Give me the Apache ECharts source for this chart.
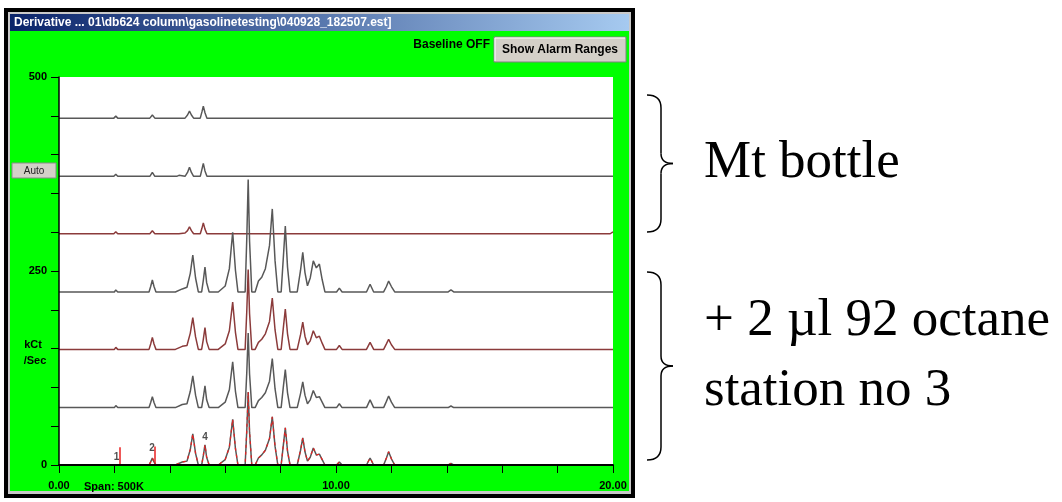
<!DOCTYPE html>
<html><head><meta charset="utf-8">
<script src="https://cdn.jsdelivr.net/npm/echarts@6/dist/echarts.min.js"></script>
<style>html,body{margin:0;padding:0;background:#fff;}#c{width:1062px;height:502px;}</style>
</head><body><div id="c"></div>
<script>
// ---- data ----
const xLabelTicks = [0, 10, 20];          // labelled x ticks (minutes)
const yLabelTicks = [0, 250, 500];        // labelled y ticks (kCt/Sec)

// empty bottle runs (top three traces)
const mtTimes = [0,1.98,2.05,2.12,3.28,3.37,3.46,4.25,4.33,4.4,4.55,4.64,4.71,4.78,4.86,5.1,5.16,5.21,5.27,5.34,14.6,14.66,14.72,19.38,19.45,19.52,19.9,20];
const mtRun1 = [0,0,2.6,0,0,3.9,0,0,0,0,0,4,9,4,0,0,8,15.4,7,0,0,1.3,0,0,0,0,0,0];
const mtRun2 = [0,0,2.6,0,0,5,0,0,1.3,0,0,5,11.6,5,0,0,9,16.7,7,0,0,0,0,0,1.3,0,0,0];
const mtRun3 = [0,0,2.6,0,0,3.9,0,0,0,0,1,4,9,4,0,0,7,14,6,0,0,0,0,0,0,0,0,2.5];

// + 2 µl 92 octane runs (bottom four traces)
const gasTimes = [0,2.0,2.05,2.12,2.65,2.7,2.75,3.25,3.31,3.37,3.43,3.5,4.2,4.45,4.62,4.74,4.83,4.93,5.03,5.15,5.21,5.27,5.33,5.42,5.75,6.0,6.15,6.27,6.37,6.46,6.72,6.78,6.83,6.88,6.96,7.08,7.2,7.32,7.45,7.6,7.7,7.8,7.9,8.02,8.1,8.17,8.25,8.34,8.6,8.72,8.8,8.88,8.97,9.07,9.18,9.29,9.4,9.5,9.6,10.02,10.12,10.22,11.1,11.23,11.36,11.72,11.82,11.9,12.0,12.12,14.05,14.15,14.25,20];
const gasRun1 = [0,0,2.6,0,0,1.3,0,0,7,15.4,7,0, 0,3.9,6,24,47.6,18,0,0,15,32,12,0, 0,7.7,30,77,28,0,0,70,145,65,0,0, 14,19,30,60,107,40,0,0,45,85,32,0, 0,28,51,25,8,18,40,31,36,16,0,0, 5,0,0,10,0,0,7,14,7,0,0,2.6, 0,0];
const gasRun2 = [0,0,2.6,0,0,0,0,0,7,15.4,7,0, 0,3.9,5,21,41,16,0,0,13,28,10,0, 0,7,24,61,22,0,0,50,103,46,0,0, 9,13,20,36,66,25,0,0,28,52,20,0, 0,19,35,17,6,11,24,15,17,8,0,0, 5,0,0,9,0,0,7,13,6,0,0,0, 0,0];
const gasRun3 = [0,0,2.6,0,0,1.3,0,0,6.5,14,6.5,0, 0,3.9,5,21,41,16,0,0,13,28,10,0, 0,7,23,59,21,0,0,46,96,43,0,0, 9,13,19,34,63,24,0,0,27,49,19,0, 0,18,33,16,5,10,22,13,14,7,0,0, 5,0,0,10,0,0,8,15,7,0,0,2, 0,0];
const gasRun4 = [0,0,1,0,0,1.3,0,0,4,9,4,0, 0,3.9,5,20,40,15,0,0,12,26,10,0, 0,7,23,59,21,0,0,45,94,42,0,0, 9,13,19,34,62,24,0,0,26,48,18,0, 0,19,35,17,5,10,22,13,14,7,0,0, 4,0,0,9,0,0,9,17,8,0,0,2, 0,0];

// baseline offset of each stacked trace (kCt/Sec)
const traceOffsets = [447, 372, 298, 223, 149, 74, 0];

// peak markers on the bottom trace
const markerTimes = [2.18, 3.47];
const markerHeights = [23, 24];
const peakLabelNames = ['1', '2', '4'];
const peakLabelTimes = [2.08, 3.36, 5.27];
const peakLabelHeights = [10, 22, 36];

// ---- build chart ----
const GREY = '#585858', BROWN = '#8b3b3b', RED = '#e82020';
const traces = [
  {t: mtTimes, v: mtRun1, c: GREY},
  {t: mtTimes, v: mtRun2, c: GREY},
  {t: mtTimes, v: mtRun3, c: BROWN},
  {t: gasTimes, v: gasRun1, c: GREY},
  {t: gasTimes, v: gasRun2, c: BROWN},
  {t: gasTimes, v: gasRun3, c: GREY},
  {t: gasTimes, v: gasRun4, c: GREY}
];
const series = traces.map((tr, k) => ({
  type: 'line', symbol: 'none', silent: true, z: 2,
  data: tr.t.map((x, i) => [x, tr.v[i] + traceOffsets[k]]),
  lineStyle: {color: tr.c, width: 1.5}
}));
series.push({
  type: 'line', symbol: 'none', silent: true, z: 3,
  data: gasTimes.map((x, i) => [x, gasRun4[i] + traceOffsets[6]]),
  lineStyle: {color: RED, width: 1.2, type: [3, 4]},
  markLine: {
    silent: true, symbol: 'none', label: {show: false},
    lineStyle: {color: RED, type: 'solid', width: 1.5},
    data: markerTimes.map((t, i) => [{coord: [t, 0]}, {coord: [t, markerHeights[i]]}])
  }
});
series.push({
  type: 'scatter', symbolSize: 0, silent: true, z: 4,
  data: peakLabelNames.map((n, i) => ({name: n, value: [peakLabelTimes[i], peakLabelHeights[i]]})),
  label: {show: true, position: 'inside', formatter: '{b}', color: '#222', fontWeight: 'bold', fontSize: 10, fontFamily: 'Liberation Sans'}
});

const SANS = 'Liberation Sans, Arial, sans-serif';
const SERIF = 'Liberation Serif, Times New Roman, serif';
const braceStyle = {stroke: '#000', fill: null, lineWidth: 1.5};
const brace = (y0, y1) => {
  const m = (y0 + y1) / 2;
  return [
    {type: 'bezierCurve', z: 10, shape: {x1: 647, y1: y0, cpx1: 656, cpy1: y0, cpx2: 661, cpy2: y0 + 4, x2: 661, y2: y0 + 13}, style: braceStyle},
    {type: 'line', z: 10, shape: {x1: 661, y1: y0 + 13, x2: 661, y2: m - 10}, style: braceStyle},
    {type: 'bezierCurve', z: 10, shape: {x1: 661, y1: m - 10, cpx1: 661, cpy1: m - 3, cpx2: 666, cpy2: m, x2: 673, y2: m}, style: braceStyle},
    {type: 'bezierCurve', z: 10, shape: {x1: 673, y1: m, cpx1: 666, cpy1: m, cpx2: 661, cpy2: m + 3, x2: 661, y2: m + 10}, style: braceStyle},
    {type: 'line', z: 10, shape: {x1: 661, y1: m + 10, x2: 661, y2: y1 - 13}, style: braceStyle},
    {type: 'bezierCurve', z: 10, shape: {x1: 661, y1: y1 - 13, cpx1: 661, cpy1: y1 - 4, cpx2: 656, cpy2: y1, x2: 647, y2: y1}, style: braceStyle}
  ];
};

const graphicEls = [
  {type: 'rect', z: -30, shape: {x: 4, y: 8, width: 631, height: 490}, style: {fill: '#000'}},
  {type: 'rect', z: -29, shape: {x: 8, y: 12, width: 623, height: 482}, style: {fill: '#c9c9c9'}},
  {type: 'rect', z: -28, shape: {x: 10, y: 14, width: 619, height: 17},
    style: {fill: new echarts.graphic.LinearGradient(0, 0, 1, 0, [{offset: 0, color: '#0a246a'}, {offset: 1, color: '#a6caf0'}])}},
  {type: 'rect', z: -28, shape: {x: 10, y: 31, width: 619, height: 460}, style: {fill: '#00ff00'}},
  {type: 'rect', z: -27, shape: {x: 59, y: 77, width: 554, height: 388}, style: {fill: '#ffffff'}},
  {type: 'text', z: 10, x: 14, y: 22.5, style: {text: 'Derivative ... 01\\db624 column\\gasolinetesting\\040928_182507.est]', fill: '#ffffff', font: 'bold 12px ' + SANS, textVerticalAlign: 'middle'}},
  {type: 'text', z: 10, x: 490, y: 45, style: {text: 'Baseline OFF', fill: '#000', font: 'bold 12px ' + SANS, textAlign: 'right', textVerticalAlign: 'middle'}},
  {type: 'rect', z: 10, shape: {x: 494, y: 37, width: 132, height: 25}, style: {fill: '#d4d0c8', stroke: '#808080', lineWidth: 1}},
  {type: 'polyline', z: 11, shape: {points: [[495, 61], [495, 38], [625, 38]]}, style: {stroke: '#ffffff', lineWidth: 1, fill: null}},
  {type: 'text', z: 11, x: 560, y: 50, style: {text: 'Show Alarm Ranges', fill: '#000', font: 'bold 12px ' + SANS, textAlign: 'center', textVerticalAlign: 'middle'}},
  {type: 'rect', z: 10, shape: {x: 12, y: 163, width: 44, height: 15}, style: {fill: '#d4d0c8', stroke: '#8a8a8a', lineWidth: 1}},
  {type: 'text', z: 11, x: 34, y: 171, style: {text: 'Auto', fill: '#222', font: '10px ' + SANS, textAlign: 'center', textVerticalAlign: 'middle'}},
  {type: 'text', z: 10, x: 33, y: 345, style: {text: 'kCt', fill: '#000', font: 'bold 11px ' + SANS, textAlign: 'center', textVerticalAlign: 'middle'}},
  {type: 'text', z: 10, x: 35, y: 361, style: {text: '/Sec', fill: '#000', font: 'bold 11px ' + SANS, textAlign: 'center', textVerticalAlign: 'middle'}},
  {type: 'text', z: 10, x: 84, y: 487, style: {text: 'Span: 500K', fill: '#000', font: 'bold 11px ' + SANS, textVerticalAlign: 'middle'}},
  ...brace(95, 232),
  ...brace(272, 460),
  {type: 'text', z: 10, x: 704, y: 163, style: {text: 'Mt bottle', fill: '#000', font: '53px ' + SERIF, textVerticalAlign: 'middle'}},
  {type: 'text', z: 10, x: 704, y: 321, style: {text: '+ 2 µl 92 octane', fill: '#000', font: '53px ' + SERIF, textVerticalAlign: 'middle'}},
  {type: 'text', z: 10, x: 704, y: 391, style: {text: 'station no 3', fill: '#000', font: '53px ' + SERIF, textVerticalAlign: 'middle'}}
];

const chart = echarts.init(document.getElementById('c'), null, {renderer: 'canvas'});
chart.setOption({
  animation: false,
  backgroundColor: '#ffffff',
  graphic: {elements: graphicEls},
  grid: {left: 59, top: 77, width: 554, height: 388, show: false},
  xAxis: {
    type: 'value', min: 0, max: 20, interval: 2, z: 5,
    axisLine: {show: true, onZero: false, lineStyle: {color: '#000', width: 2}},
    axisTick: {show: true, length: 8, lineStyle: {color: '#000'}},
    axisLabel: {formatter: v => xLabelTicks.includes(v) ? v.toFixed(2) : '', color: '#000', fontWeight: 'bold', fontSize: 11, fontFamily: SANS, margin: 15, showMinLabel: true, showMaxLabel: true},
    splitLine: {show: false}
  },
  yAxis: {
    type: 'value', min: 0, max: 500, interval: 50, z: 5,
    axisLine: {show: true, lineStyle: {color: '#000', width: 1.5}},
    axisTick: {show: true, length: 8, lineStyle: {color: '#000'}},
    axisLabel: {formatter: v => yLabelTicks.includes(v) ? String(v) : '', color: '#000', fontWeight: 'bold', fontSize: 11, fontFamily: SANS, margin: 12},
    splitLine: {show: false}
  },
  series: series
});
</script></body></html>
